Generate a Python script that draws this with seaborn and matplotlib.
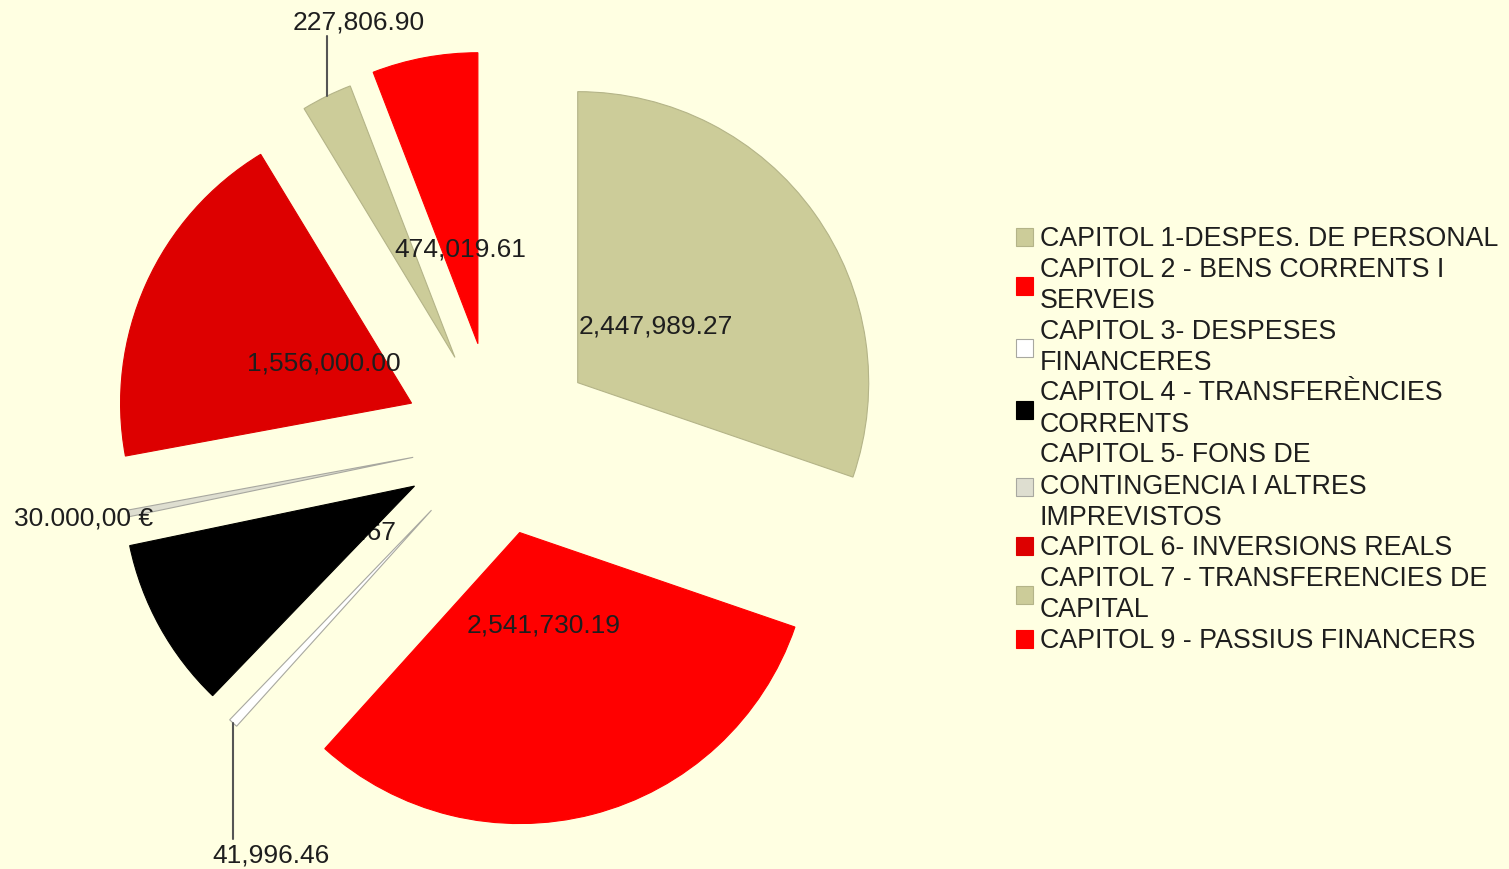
import matplotlib
matplotlib.use("Agg")
import numpy as np
import matplotlib.pyplot as plt
import seaborn as sns

# Budget chapters (pie starts at 12 o'clock, clockwise)
categories = [
    "CAPITOL 1-DESPES. DE PERSONAL",
    "CAPITOL 2 - BENS CORRENTS I\nSERVEIS",
    "CAPITOL 3- DESPESES\nFINANCERES",
    "CAPITOL 4 - TRANSFERÈNCIES\nCORRENTS",
    "CAPITOL 5- FONS DE\nCONTINGENCIA I ALTRES\nIMPREVISTOS",
    "CAPITOL 6- INVERSIONS REALS",
    "CAPITOL 7 - TRANSFERENCIES DE\nCAPITAL",
    "CAPITOL 9 - PASSIUS FINANCERS",
]
values = [2447989.27, 2541730.19, 41996.46, 770018.67, 30000.00,
          1556000.00, 227806.90, 474019.61]
value_labels = ["2,447,989.27", "2,541,730.19", "41,996.46", "770,018.67",
                "30.000,00 €", "1,556,000.00", "227,806.90", "474,019.61"]

colors = ["#CCCC99", "#FF0000", "#FFFFFF", "#000000", "#DEDED0",
          "#DD0000", "#CCCC99", "#FF0000"]
edge_colors = ["#B4B488", "#FF0000", "#A8A8A0", "#000000", "#A8A8A0",
               "#DD0000", "#B4B488", "#FF0000"]
explode = [0.345, 0.325, 0.325, 0.32, 0.29, 0.318, 0.32, 0.34]
label_mode = ["in", "in", "below", "hidden", "left", "in", "above", "in"]

sns.set_theme(style="white")
plt.rcParams["font.family"] = ["Liberation Sans", "DejaVu Sans"]

BG = "#FFFFE2"
TXT = "#1e1e1e"
px = 1 / 291.0  # one pixel in data units (pie radius = 291 px)

fig = plt.figure(figsize=(15.09, 8.69), dpi=100, facecolor=BG)
ax = fig.add_axes([0, 0, 1, 1])
ax.set_facecolor(BG)

wedges, _ = ax.pie(values, colors=colors, explode=explode, startangle=90,
                   counterclock=False, radius=1.0,
                   wedgeprops=dict(linewidth=0.8))
for w, ec in zip(wedges, edge_colors):
    w.set_edgecolor(ec)

for w, lab, mode in zip(wedges, value_labels, label_mode):
    mid = np.deg2rad((w.theta1 + w.theta2) / 2)
    cx, cy = w.center
    ox, oy = cx + w.r * np.cos(mid), cy + w.r * np.sin(mid)
    if mode in ("in", "hidden"):
        ax.text(cx + 0.33 * np.cos(mid), cy + 0.33 * np.sin(mid), lab,
                ha="center", va="center", fontsize=19, color=TXT,
                zorder=0.5 if mode == "hidden" else 3)
    elif mode == "above":
        ax.plot([ox, ox], [oy, oy + 60 * px], color="#555555", lw=1.5)
        ax.text(ox + 32 * px, oy + 74 * px, lab, ha="center", va="center",
                fontsize=19, color=TXT)
    elif mode == "below":
        ax.plot([ox, ox], [oy, oy - 116 * px], color="#555555", lw=1.5)
        ax.text(ox + 38 * px, oy - 132 * px, lab, ha="center", va="center",
                fontsize=19, color=TXT)
    elif mode == "left":
        ax.text(ox + 25 * px, oy - 5 * px, lab, ha="right", va="center",
                fontsize=19, color=TXT)

ax.set_xlim(-496 * px, (1509 - 496) * px)
ax.set_ylim(-(869 - 441) * px, 441 * px)
ax.set_aspect("equal")
ax.axis("off")

leg = ax.legend(wedges, categories, loc="upper left",
                bbox_to_anchor=(1016 / 1509, 1 - 226 / 869),
                bbox_transform=fig.transFigure, frameon=False, fontsize=19.3,
                handlelength=0.65, handleheight=0.65, handletextpad=0.23,
                labelspacing=0.175, borderpad=0, borderaxespad=0)
for t in leg.get_texts():
    t.set_color(TXT)
    t.set_linespacing(1.26)

fig.savefig("out.png", dpi=100, facecolor=BG)
